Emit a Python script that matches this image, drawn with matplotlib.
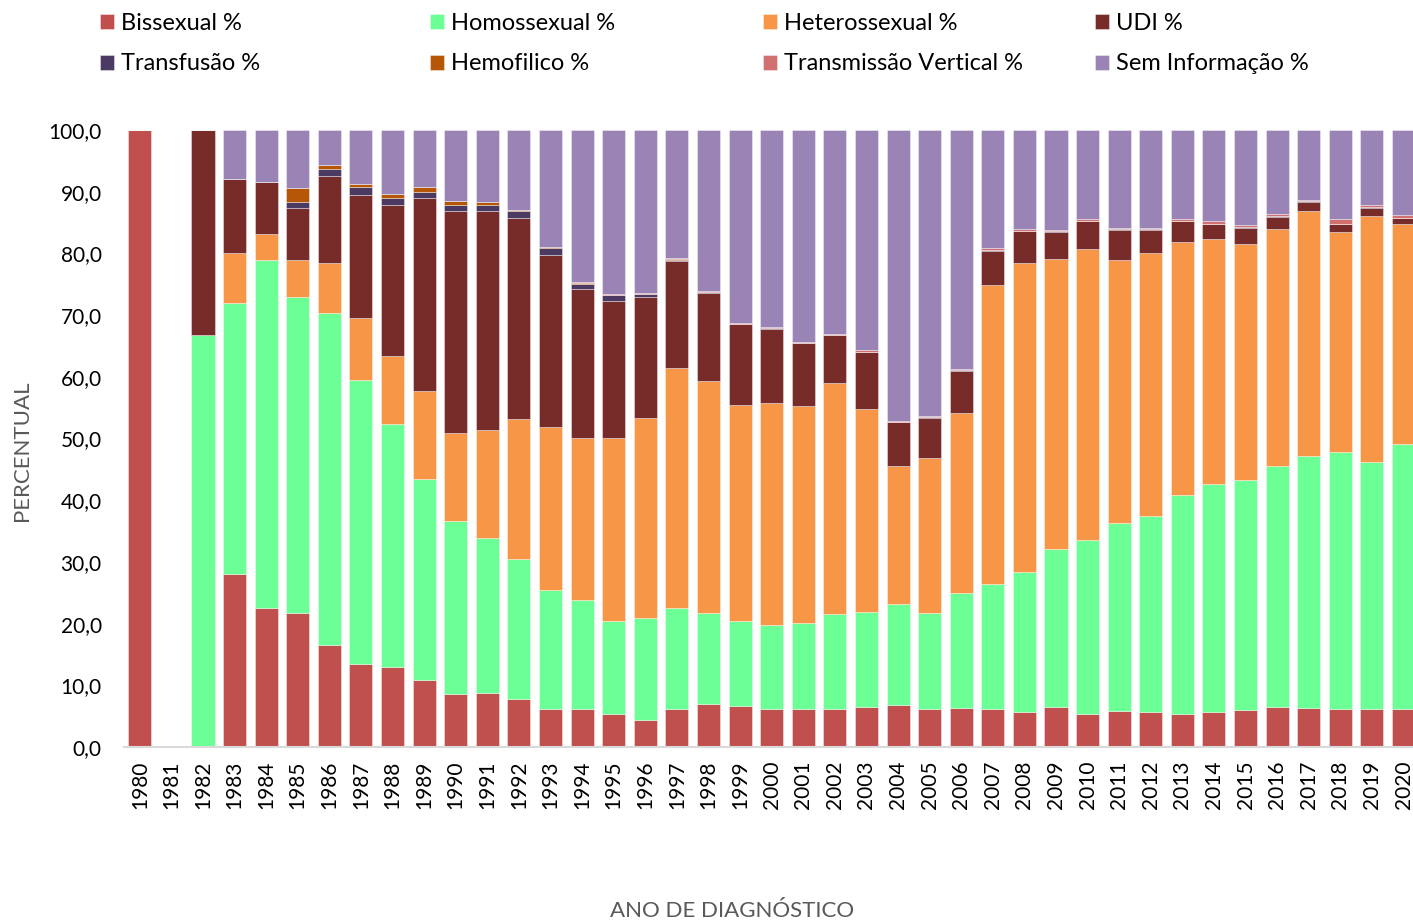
import matplotlib
matplotlib.use("Agg")
import matplotlib.pyplot as plt
import numpy as np

plt.rcParams['font.family'] = ['Lato', 'DejaVu Sans']

anos = [str(a) for a in range(1980, 2021)]

bissexual = [100.0, 0.0, 0.0, 28.0, 22.5, 21.7, 16.6, 13.4, 13.0, 10.9,
             8.6, 8.8, 7.8, 6.1, 6.2, 5.3, 4.4, 6.2, 6.9, 6.6,
             6.2, 6.1, 6.1, 6.5, 6.8, 6.2, 6.4, 6.1, 5.7, 6.5,
             5.3, 5.8, 5.7, 5.4, 5.6, 6.0, 6.5, 6.4, 6.2, 6.1, 6.1]
homossexual = [0.0, 0.0, 66.7, 44.0, 56.5, 51.3, 53.7, 46.1, 39.3, 32.5,
               28.0, 25.0, 22.6, 19.4, 17.7, 15.1, 16.5, 16.4, 14.8, 13.8,
               13.5, 14.0, 15.4, 15.4, 16.4, 15.5, 18.6, 20.3, 22.6, 25.6,
               28.3, 30.5, 31.7, 35.5, 37.1, 37.2, 39.0, 40.8, 41.6, 40.1, 43.0]
heterossexual = [0.0, 0.0, 0.0, 8.0, 4.2, 6.0, 8.2, 10.0, 11.1, 14.3,
                 14.3, 17.6, 22.7, 26.4, 26.2, 29.7, 32.4, 38.9, 37.6, 35.1,
                 36.1, 35.1, 37.5, 32.9, 22.4, 25.1, 29.2, 48.5, 50.2, 47.0,
                 47.1, 42.7, 42.7, 40.9, 39.7, 38.3, 38.5, 39.6, 35.6, 39.8, 35.6]
udi = [0.0, 0.0, 33.3, 12.0, 8.4, 8.3, 14.1, 19.9, 24.5, 31.3,
       35.9, 35.4, 32.6, 27.8, 24.1, 22.2, 19.6, 17.3, 14.3, 13.0,
       12.0, 10.2, 7.7, 9.2, 7.0, 6.5, 6.8, 5.5, 5.1, 4.4,
       4.5, 4.8, 3.7, 3.4, 2.3, 2.6, 1.9, 1.6, 1.3, 1.4, 1.0]
transfusao = [0.0, 0.0, 0.0, 0.0, 0.0, 1.1, 1.0, 1.3, 1.0, 0.9,
              1.1, 1.0, 1.1, 1.1, 0.8, 0.9, 0.5, 0.2, 0.1, 0.1,
              0.1, 0.1, 0.1, 0.1, 0.1, 0.2, 0.1, 0.1, 0.1, 0.1,
              0.1, 0.1, 0.1, 0.1, 0.1, 0.1, 0.1, 0.1, 0.1, 0.1, 0.1]
hemofilico = [0.0, 0.0, 0.0, 0.0, 0.0, 2.2, 0.8, 0.6, 0.8, 0.9,
              0.6, 0.5, 0.2, 0.2, 0.2, 0.1, 0.1, 0.1, 0.1, 0.0,
              0.0, 0.0, 0.0, 0.0, 0.0, 0.0, 0.0, 0.0, 0.0, 0.0,
              0.0, 0.0, 0.0, 0.0, 0.0, 0.0, 0.0, 0.0, 0.0, 0.0, 0.0]
trans_vertical = [0.0, 0.0, 0.0, 0.0, 0.0, 0.0, 0.0, 0.0, 0.0, 0.0,
                  0.0, 0.1, 0.1, 0.1, 0.1, 0.1, 0.1, 0.1, 0.1, 0.1,
                  0.1, 0.1, 0.2, 0.2, 0.2, 0.1, 0.2, 0.3, 0.2, 0.2,
                  0.3, 0.2, 0.2, 0.3, 0.4, 0.4, 0.4, 0.1, 0.7, 0.3, 0.4]
sem_info = [0.0, 0.0, 0.0, 8.0, 8.4, 9.4, 5.6, 8.7, 10.3, 9.2,
            11.5, 11.6, 12.9, 18.9, 24.7, 26.6, 26.4, 20.8, 26.1, 31.3,
            32.0, 34.4, 33.0, 35.7, 47.1, 46.4, 38.7, 19.2, 16.1, 16.2,
            14.4, 15.9, 15.9, 14.4, 14.8, 15.4, 13.6, 11.4, 14.5, 12.2, 13.8]

series = [
    ("Bissexual %", bissexual, "#C0504D"),
    ("Homossexual %", homossexual, "#6BFF96"),
    ("Heterossexual %", heterossexual, "#F79646"),
    ("UDI %", udi, "#772C2A"),
    ("Transfusão %", transfusao, "#4B3B63"),
    ("Hemofilico %", hemofilico, "#B65708"),
    ("Transmissão Vertical %", trans_vertical, "#D07070"),
    ("Sem Informação %", sem_info, "#9A84B6"),
]

W, H = 1413, 922
fig = plt.figure(figsize=(W / 100, H / 100), dpi=100)
ax = fig.add_axes([124 / W, 175 / H, 1289 / W, 617 / H])

x = np.arange(len(anos))
bottom = np.zeros(len(anos))
handles = {}
for nome, vals, cor in series:
    vals = np.array(vals)
    b = ax.bar(x, vals, 0.73, bottom=bottom, color=cor, label=nome,
               edgecolor=(1, 1, 1, 0.45), linewidth=0.6)
    handles[nome] = b
    bottom += vals

ax.set_xlim(-0.5, 40.3)
ax.set_ylim(0, 100)
ax.set_xticks(x)
ax.set_xticklabels(anos, rotation=90, fontsize=15)
ax.set_yticks(np.arange(0, 101, 10))
ax.set_yticklabels([f"{v:.1f}".replace(".", ",") for v in range(0, 101, 10)], fontsize=15)
ax.tick_params(axis='both', length=0)
ax.tick_params(axis='x', pad=10)
ax.tick_params(axis='y', pad=16)
for s in ['top', 'right', 'left']:
    ax.spines[s].set_visible(False)
ax.spines['bottom'].set_color('#D9D9D9')
ax.spines['bottom'].set_linewidth(1.5)

ax.set_ylabel("PERCENTUAL", fontsize=16, color='#595959')
ax.yaxis.set_label_coords(-0.071, 0.48)
ax.set_xlabel("ANO DE DIAGNÓSTICO", fontsize=16, color='#595959', va='center')
ax.xaxis.set_label_coords(0.4717, -0.266)

# legend: 4 columns, 2 rows
colunas = [(100, ["Bissexual %", "Transfusão %"]),
           (430, ["Homossexual %", "Hemofilico %"]),
           (763, ["Heterossexual %", "Transmissão Vertical %"]),
           (1095, ["UDI %", "Sem Informação %"])]
for xp, nomes in colunas:
    fig.legend([handles[n] for n in nomes], nomes, loc='upper left',
               bbox_to_anchor=(xp / W, 1 - 13 / H), frameon=False,
               fontsize=17, borderpad=0, borderaxespad=0,
               handlelength=0.6, handleheight=0.6, handletextpad=0.3,
               labelspacing=0.82)

fig.savefig("out.png", dpi=100)
